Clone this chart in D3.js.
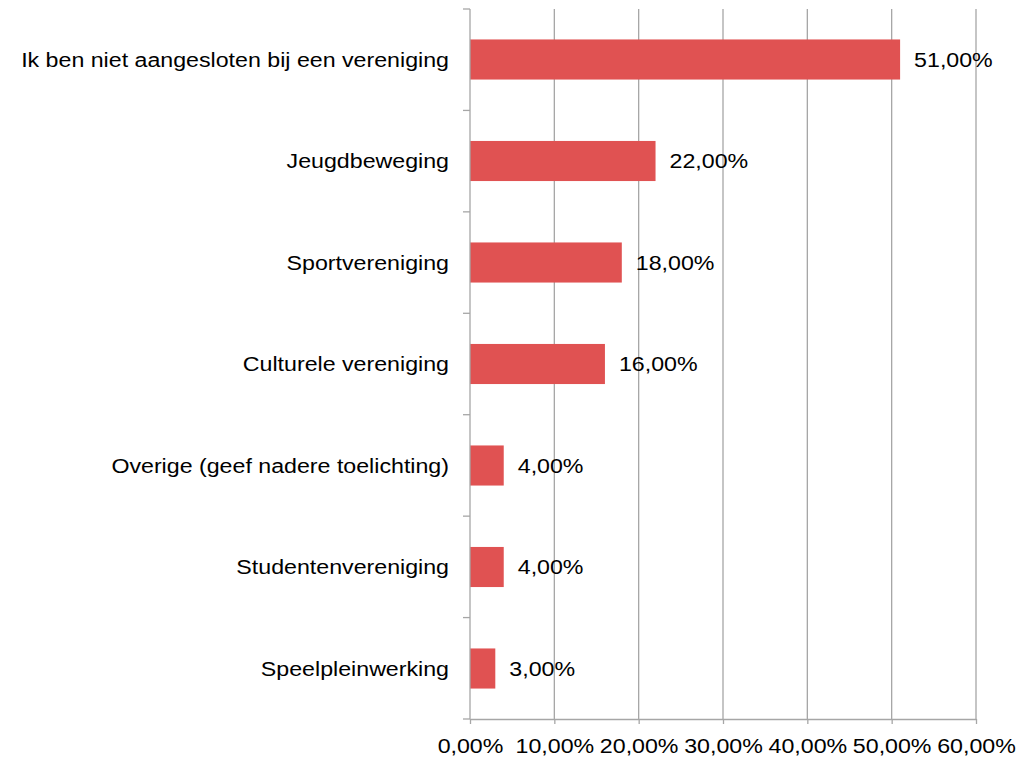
<html>
<head>
<script src="https://cdn.jsdelivr.net/npm/d3@7"></script>
<style>
  body { margin: 0; background: #fff; }
  text { font-family: "Liberation Sans", Arial, sans-serif; fill: #000; }
</style>
</head>
<body>
<svg width="1030" height="757"></svg>
<script>
// Data
var categories = [
  "Ik ben niet aangesloten bij een vereniging",
  "Jeugdbeweging",
  "Sportvereniging",
  "Culturele vereniging",
  "Overige (geef nadere toelichting)",
  "Studentenvereniging",
  "Speelpleinwerking"
];
var values = [51, 22, 18, 16, 4, 4, 3];
var tickValues = [0, 10, 20, 30, 40, 50, 60];

var svg = d3.select("svg");
var plotLeft = 470, plotRight = 976, plotTop = 9, plotBottom = 719;
var stretch = 1.16; // text in the original is a bit wider than Liberation Sans

var fmt = function(v) { return v.toFixed(2).replace(".", ",") + "%"; };

var x = d3.scaleLinear().domain([0, 60]).range([plotLeft, plotRight]);
var y = d3.scaleBand().domain(categories).range([plotTop, plotBottom]).paddingInner(0.605).paddingOuter(0.3);

// gridlines
svg.append("g").selectAll("line")
  .data(tickValues.slice(1))
  .join("line")
    .attr("x1", function(d) { return x(d); })
    .attr("x2", function(d) { return x(d); })
    .attr("y1", plotTop)
    .attr("y2", plotBottom)
    .attr("stroke", "#a6a6a6")
    .attr("stroke-width", 1.3);

// bars
svg.append("g").selectAll("rect")
  .data(values)
  .join("rect")
    .attr("x", x(0))
    .attr("y", function(d, i) { return y(categories[i]); })
    .attr("width", function(d) { return x(d) - x(0); })
    .attr("height", y.bandwidth())
    .attr("fill", "#e05252");

// value labels
svg.append("g").selectAll("text")
  .data(values)
  .join("text")
    .attr("transform", function(d, i) {
      return "translate(" + (x(d) + 14) + "," + (y(categories[i]) + y.bandwidth() / 2) + ") scale(" + stretch + ",1)";
    })
    .attr("dy", "0.35em")
    .style("font-size", "20px")
    .text(fmt);

// y axis
var step = (plotBottom - plotTop) / categories.length;
var yAxis = svg.append("g");
yAxis.append("line")
  .attr("x1", plotLeft).attr("x2", plotLeft).attr("y1", plotTop).attr("y2", plotBottom)
  .attr("stroke", "#a6a6a6").attr("stroke-width", 1.3);
yAxis.selectAll("line.tick")
  .data(d3.range(categories.length + 1))
  .join("line")
    .attr("class", "tick")
    .attr("x1", plotLeft - 7).attr("x2", plotLeft)
    .attr("y1", function(i) { return plotTop + i * step; })
    .attr("y2", function(i) { return plotTop + i * step; })
    .attr("stroke", "#a6a6a6").attr("stroke-width", 1.3);
yAxis.selectAll("text")
  .data(categories)
  .join("text")
    .attr("transform", function(d) {
      return "translate(" + (plotLeft - 21) + "," + (y(d) + y.bandwidth() / 2) + ") scale(" + stretch + ",1)";
    })
    .attr("dy", "0.35em")
    .attr("text-anchor", "end")
    .style("font-size", "20px")
    .text(function(d) { return d; });

// x axis
var xAxis = svg.append("g").attr("transform", "translate(0," + plotBottom + ")")
  .call(d3.axisBottom(x).tickValues(tickValues).tickSize(5).tickSizeOuter(0).tickFormat(fmt));
xAxis.select(".domain").attr("stroke", "#a6a6a6").attr("stroke-width", 1.3);
xAxis.selectAll(".tick line").attr("stroke", "#a6a6a6").attr("stroke-width", 1.3);
xAxis.selectAll(".tick text")
  .attr("y", 20)
  .attr("transform", "scale(" + stretch + ",1)")
  .style("font-size", "20px")
  .style("font-family", "'Liberation Sans', Arial, sans-serif")
  .attr("fill", "#000");
</script>
</body>
</html>
